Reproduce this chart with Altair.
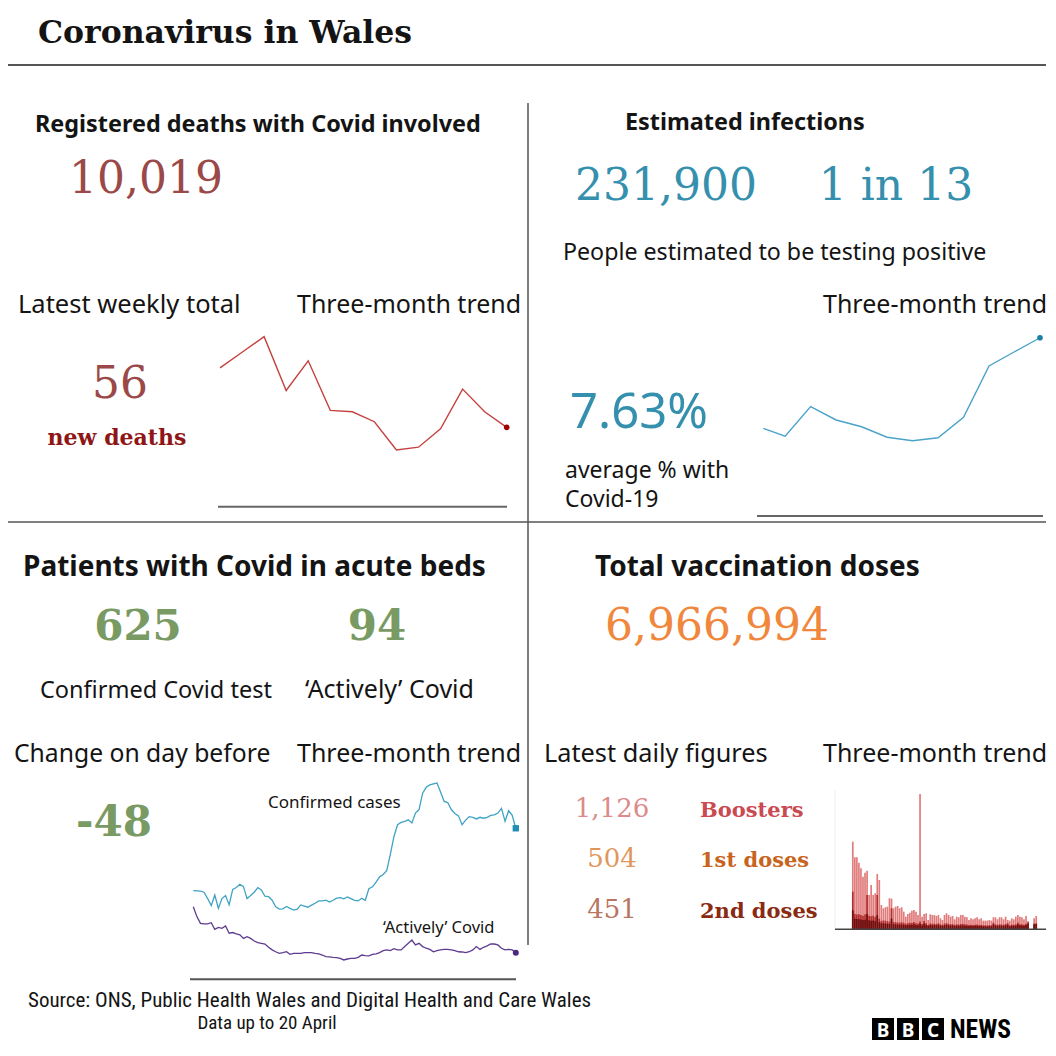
import altair as alt
import pandas as pd

OFF = 8
W, H = 1040, 1036
SANS = "Noto Sans"
SERIF = "DejaVu Serif"
COND = "Liberation Sans Narrow, Roboto Condensed, Roboto"
INK = "#141414"

# ---------------- data ----------------
death_weeks = list(pd.date_range("2022-01-07", periods=14, freq="7D"))
death_values = [98, 109, 120, 82, 103, 68, 67, 60, 40, 42, 55, 83, 67, 56]

inf_dates = ["2022-01-16", "2022-01-22", "2022-01-29", "2022-02-05", "2022-02-12", "2022-02-19",
             "2022-02-26", "2022-03-05", "2022-03-12", "2022-03-19", "2022-03-26", "2022-04-02"]
inf_values = [3.75, 3.42, 4.68, 4.11, 3.82, 3.37, 3.22, 3.35, 4.22, 6.42, 7.03, 7.63]

patient_dates = list(pd.date_range("2022-01-20", "2022-04-20"))
confirmed = [359, 358, 357, 352, 325, 295, 340, 283, 325, 338,
             298, 364, 372, 386, 376, 325, 338, 352, 372, 362,
             335, 333, 318, 290, 280, 281, 291, 283, 276, 280,
             298, 293, 288, 297, 305, 315, 315, 318, 310, 318,
             327, 329, 324, 332, 325, 317, 315, 326, 318, 367,
             375, 395, 418, 428, 445, 515, 590, 640, 650, 655,
             661, 648, 690, 705, 775, 800, 810, 815, 818, 780,
             740, 735, 705, 688, 678, 640, 660, 675, 672, 665,
             672, 668, 672, 680, 682, 690, 710, 655, 700, 680,
             625]
actively = [290, 248, 219, 217, 217, 222, 194, 202, 198, 208,
            177, 180, 174, 170, 155, 162, 155, 144, 137, 134,
            131, 117, 106, 98, 91, 94, 98, 87, 91, 91,
            91, 94, 94, 94, 91, 89, 84, 77, 76, 74,
            73, 70, 63, 67, 70, 70, 74, 84, 81, 80,
            87, 89, 94, 103, 106, 103, 111, 106, 106, 120,
            134, 148, 127, 134, 120, 113, 108, 98, 103, 106,
            108, 108, 106, 103, 98, 97, 94, 98, 106, 120,
            108, 117, 123, 131, 131, 127, 113, 106, 108, 106,
            94]

vacc_days = list(range(91))
boosters = [7409, 6085, 6085, 5634, 5155, 4451, 4789, 4958, 2902, 3747,
            2902, 3042, 4676, 4169, 2056, 1775, 1859, 1916, 2620, 2592,
            1775, 1916, 1972, 1775, 1859, 1493, 1070, 1296, 1409, 1578,
            1634, 1493, 1211, 11437, 1070, 1296, 1352, 789, 1268, 1211,
            1211, 1127, 1211, 930, 789, 1211, 1352, 1211, 1070, 1127,
            845, 1070, 1014, 1211, 1211, 1070, 1014, 789, 930, 845,
            930, 1014, 845, 930, 732, 732, 732, 789, 732, 1014,
            1014, 845, 1014, 1014, 845, 1070, 789, 732, 930, 845,
            1070, 1211, 1070, 1014, 845, 1127, 225, 0, 0, 930,
            1126]
first_doses = [3180, 1300, 1250, 1280, 1200, 1150, 1250, 2900, 1150, 1100,
               1150, 1050, 2900, 900, 700, 750, 720, 680, 650, 1780,
               620, 600, 580, 560, 600, 540, 480, 520, 560, 540,
               620, 520, 480, 650, 450, 700, 520, 380, 500, 460,
               480, 450, 520, 420, 380, 480, 520, 460, 430, 440,
               380, 420, 400, 450, 460, 420, 400, 360, 380, 360,
               380, 400, 360, 380, 340, 340, 330, 350, 340, 560,
               420, 380, 420, 410, 380, 450, 520, 340, 400, 380,
               420, 580, 430, 420, 380, 470, 650, 0, 0, 480,
               504]
second_doses = [1600, 900, 880, 850, 820, 780, 800, 1300, 760, 720,
                750, 700, 1200, 600, 500, 520, 480, 470, 450, 900,
                430, 420, 400, 390, 410, 380, 350, 370, 390, 380,
                420, 370, 340, 460, 330, 480, 370, 300, 360, 340,
                350, 330, 380, 310, 290, 350, 380, 340, 320, 330,
                290, 310, 300, 330, 340, 310, 300, 270, 290, 270,
                290, 300, 270, 290, 260, 260, 250, 270, 260, 420,
                320, 290, 320, 310, 290, 340, 390, 260, 300, 290,
                320, 430, 330, 320, 290, 360, 480, 0, 0, 420,
                451]


# ---------------- helpers ----------------
def txt(s, x, y, size, color=INK, font=SANS, weight="normal", align="left"):
    return alt.Chart(pd.DataFrame({"t": [s]})).mark_text(
        font=font, fontSize=size, fontWeight=weight, color=color,
        align=align, baseline="alphabetic"
    ).encode(x=alt.value(x - OFF), y=alt.value(y - OFF), text="t:N")


def hrule(x1, x2, y, color="#555555", width=1.5):
    return alt.Chart(pd.DataFrame({"a": [0]})).mark_rule(color=color, strokeWidth=width).encode(
        x=alt.value(x1 - OFF), x2=alt.value(x2 - OFF), y=alt.value(y - OFF))


def vrule(x, y1, y2, color="#555555", width=1.5):
    return alt.Chart(pd.DataFrame({"a": [0]})).mark_rule(color=color, strokeWidth=width).encode(
        x=alt.value(x - OFF), y=alt.value(y1 - OFF), y2=alt.value(y2 - OFF))


def rng(a, b):
    return [a - OFF, b - OFF]


layers = []

# ---------------- frame ----------------
layers += [
    txt("Coronavirus in Wales", 38, 43, 31.5, font=SERIF, weight="bold"),
    hrule(8, 1046, 65, "#555555", 2),
    hrule(8, 1046, 522, "#555555", 1.5),
    vrule(528, 103, 945, "#555555", 1.5),
]

# ---------------- deaths ----------------
deaths_df = pd.DataFrame({"week": death_weeks, "deaths": death_values})
dx = alt.X("week:T", scale=alt.Scale(range=rng(220, 506.7), nice=False), axis=None)
dy = alt.Y("deaths:Q", scale=alt.Scale(domain=[0, 120], range=rng(506.7, 336.7), nice=False, zero=True), axis=None)
deaths_chart = alt.layer(
    alt.Chart(deaths_df).mark_line(color="#c4423f", strokeWidth=1.4).encode(x=dx, y=dy),
    alt.Chart(deaths_df.tail(1)).mark_circle(color="#a00000", size=32, opacity=1).encode(x=dx, y=dy),
)
layers += [
    txt("Registered deaths with Covid involved", 35, 132, 23.4, weight="bold"),
    txt("10,019", 146, 193, 44, color="#9b4848", font=SERIF, align="center"),
    txt("Latest weekly total", 18, 313, 25.5),
    txt("Three-month trend", 297, 313, 25),
    txt("56", 120, 398, 44, color="#9b4848", font=SERIF, align="center"),
    txt("new deaths", 117, 445, 22, color="#8e1616", font=SERIF, weight="bold", align="center"),
    hrule(218, 507, 506.7, "#666666", 2),
    deaths_chart,
]

# ---------------- infections ----------------
inf_df = pd.DataFrame({"date": pd.to_datetime(inf_dates), "pct": inf_values})
ix = alt.X("date:T", scale=alt.Scale(range=rng(763.3, 1040), nice=False), axis=None)
iy = alt.Y("pct:Q", scale=alt.Scale(domain=[0, 8], range=rng(516, 329.1), nice=False), axis=None)
inf_chart = alt.layer(
    alt.Chart(inf_df).mark_line(color="#4aa3c8", strokeWidth=1.4).encode(x=ix, y=iy),
    alt.Chart(inf_df.tail(1)).mark_circle(color="#1b7fa6", size=32, opacity=1).encode(x=ix, y=iy),
)
TEAL = "#3590ae"
layers += [
    txt("Estimated infections", 625, 130, 23.4, weight="bold"),
    txt("231,900", 666, 200, 44, color=TEAL, font=SERIF, align="center"),
    txt("1 in 13", 896, 200, 44, color=TEAL, font=SERIF, align="center"),
    txt("People estimated to be testing positive", 563, 260, 23.2),
    txt("Three-month trend", 823, 313, 25),
    txt("7.63%", 570, 428, 49, color=TEAL),
    txt("average % with", 565, 478, 23),
    txt("Covid-19", 565, 507, 23),
    hrule(757, 1043, 516, "#666666", 2),
    inf_chart,
]

# ---------------- patients ----------------
pat_df = pd.DataFrame({"date": patient_dates, "confirmed": confirmed, "actively": actively})
px_ = alt.X("date:T", scale=alt.Scale(range=rng(193.3, 515.8), nice=False), axis=None)
py_c = alt.Y("confirmed:Q", scale=alt.Scale(domain=[0, 800], range=rng(974.7, 787.3), nice=False), axis=None)
py_a = alt.Y("actively:Q", scale=alt.Scale(domain=[0, 800], range=rng(974.7, 787.3), nice=False), axis=None)
pat_chart = alt.layer(
    alt.Chart(pat_df).mark_line(color="#3fa3c4", strokeWidth=1.3).encode(x=px_, y=py_c),
    alt.Chart(pat_df).mark_line(color="#5e3b8f", strokeWidth=1.3).encode(x=px_, y=py_a),
    alt.Chart(pat_df.tail(1)).mark_square(color="#1f8eb3", size=40, opacity=1).encode(x=px_, y=py_c),
    alt.Chart(pat_df.tail(1)).mark_circle(color="#4b2a80", size=36, opacity=1).encode(x=px_, y=py_a),
).resolve_scale(y="shared")
GREEN = "#7a9a64"
layers += [
    txt("Patients with Covid in acute beds", 23, 576, 28, weight="bold"),
    txt("625", 138, 640, 42, color=GREEN, font=SERIF, weight="bold", align="center"),
    txt("94", 377, 640, 42, color=GREEN, font=SERIF, weight="bold", align="center"),
    txt("Confirmed Covid test", 40, 698, 23.5),
    txt("\u2018Actively\u2019 Covid", 305, 698, 25),
    txt("Change on day before", 14, 762, 24.7),
    txt("Three-month trend", 297, 762, 25),
    txt("-48", 114, 836, 42, color=GREEN, font=SERIF, weight="bold", align="center"),
    txt("Confirmed cases", 268, 808, 17),
    txt("\u2018Actively\u2019 Covid", 383, 933, 16.5),
    hrule(190, 516, 979.3, "#555555", 2),
    pat_chart,
]

# ---------------- vaccinations ----------------
vac_df = pd.DataFrame({"day": vacc_days, "boosters": boosters, "first": first_doses, "second": second_doses})
vx = alt.X("day:Q", scale=alt.Scale(domain=[0, 90], range=rng(847.8, 1041.2), nice=False, zero=False), axis=None)


def vy(field):
    return alt.Y(f"{field}:Q", scale=alt.Scale(domain=[0, 12000], range=rng(929.3, 787.3), nice=False), axis=None)


vac_chart = alt.layer(
    alt.Chart(vac_df).mark_bar(color="#e07c7c", size=1.7).encode(x=vx, y=vy("boosters")),
    alt.Chart(vac_df).mark_bar(color="#b3302f", size=1.7).encode(x=vx, y=vy("first")),
    alt.Chart(vac_df).mark_bar(color="#6e1010", size=1.7).encode(x=vx, y=vy("second")),
).resolve_scale(y="shared")
layers += [
    txt("Total vaccination doses", 595, 576, 28, weight="bold"),
    txt("6,966,994", 717, 640, 44, color="#f0873c", font=SERIF, align="center"),
    txt("Latest daily figures", 544, 762, 25.3),
    txt("Three-month trend", 823, 762, 25),
    txt("1,126", 612, 817, 26, color="#dc8a8a", font=SERIF, align="center"),
    txt("Boosters", 700, 817, 21, color="#c94a52", font=SERIF, weight="bold"),
    txt("504", 612, 867, 26, color="#e0975e", font=SERIF, align="center"),
    txt("1st doses", 700, 867, 21, color="#c8641e", font=SERIF, weight="bold"),
    txt("451", 612, 918, 26, color="#b87560", font=SERIF, align="center"),
    txt("2nd doses", 700, 918, 21, color="#8a2a12", font=SERIF, weight="bold"),
    vrule(835, 790, 929, "#eeeeee", 1),
    vac_chart,
    hrule(835, 1046, 929.3, "#444444", 1.5),
]

# ---------------- footer ----------------
logo = alt.Chart(pd.DataFrame({"a": [0]}))
for i, letter in enumerate(["B", "B", "C"]):
    x0 = 872 + i * 25
    layers.append(logo.mark_rect(color="#000000").encode(
        x=alt.value(x0 - OFF), x2=alt.value(x0 + 22 - OFF),
        y=alt.value(1018 - OFF), y2=alt.value(1040 - OFF)))
    layers.append(txt(letter, x0 + 11, 1036.5, 19, color="#ffffff", font=SANS, weight="bold", align="center"))
layers += [
    txt("NEWS", 950, 1038, 25.5, color="#000000", font=COND, weight="bold"),
    txt("Source: ONS, Public Health Wales and Digital Health and Care Wales", 28, 1007, 21, font=COND),
    txt("Data up to 20 April", 267, 1029, 19, font=COND, align="center"),
]

chart = alt.layer(*layers).resolve_scale(x="independent", y="independent").properties(
    width=W, height=H, padding=0, autosize=alt.AutoSizeParams(type="none"),
    background="white",
).configure_view(stroke=None)

chart.save("out.html", embed_options={"renderer": "svg", "actions": False})
